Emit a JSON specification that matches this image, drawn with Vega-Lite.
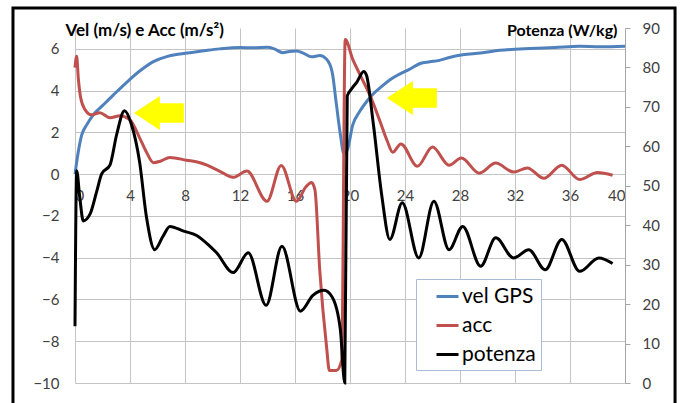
{
  "$schema": "https://vega.github.io/schema/vega-lite/v6.json",
  "width": 550,
  "height": 355,
  "autosize": {"type": "none"},
  "padding": {"left": 75, "top": 28, "right": 56, "bottom": 20},
  "background": "white",
  "config": {
    "view": {"stroke": null},
    "font": "Lato",
    "axis": {"labelFont": "Lato", "titleFont": "Lato", "labelColor": "#404040", "titleColor": "#000000", "gridColor": "#c4c4c4", "gridWidth": 1}
  },
  "datasets": {
    "vel": [
      {"t": 0, "v": 0}, {"t": 0.24, "v": 1.08}, {"t": 0.49, "v": 1.88}, {"t": 0.85, "v": 2.36}, {"t": 1.33, "v": 2.84},
      {"t": 2.06, "v": 3.32}, {"t": 2.8, "v": 3.8}, {"t": 3.76, "v": 4.4}, {"t": 4.73, "v": 4.95}, {"t": 5.7, "v": 5.39},
      {"t": 6.67, "v": 5.63}, {"t": 7.5, "v": 5.74}, {"t": 8.5, "v": 5.83}, {"t": 9.5, "v": 5.92}, {"t": 10.5, "v": 6.0},
      {"t": 12, "v": 6.07}, {"t": 13, "v": 6.05}, {"t": 14, "v": 6.08}, {"t": 14.5, "v": 6.0}, {"t": 15.1, "v": 5.82},
      {"t": 15.6, "v": 5.88}, {"t": 16.1, "v": 5.9}, {"t": 16.6, "v": 5.8}, {"t": 17.2, "v": 5.62}, {"t": 17.8, "v": 5.68},
      {"t": 18.3, "v": 5.5}, {"t": 18.7, "v": 4.9}, {"t": 19.0, "v": 3.4}, {"t": 19.3, "v": 1.9}, {"t": 19.55, "v": 1.0},
      {"t": 19.8, "v": 1.15}, {"t": 20.2, "v": 2.36}, {"t": 20.7, "v": 3.0}, {"t": 21.2, "v": 3.47}, {"t": 21.7, "v": 3.85},
      {"t": 22.2, "v": 4.14}, {"t": 23.1, "v": 4.6}, {"t": 24.4, "v": 5.05}, {"t": 25.1, "v": 5.3}, {"t": 25.8, "v": 5.38},
      {"t": 26.5, "v": 5.45}, {"t": 27.3, "v": 5.6}, {"t": 28.2, "v": 5.72}, {"t": 29.5, "v": 5.8}, {"t": 30.9, "v": 5.93},
      {"t": 32, "v": 5.98}, {"t": 33.1, "v": 6.02}, {"t": 34.9, "v": 6.07}, {"t": 36.7, "v": 6.13}, {"t": 38.2, "v": 6.1},
      {"t": 40, "v": 6.13}
    ],
    "acc": [
      {"t": 0, "a": 5.1}, {"t": 0.12, "a": 5.65}, {"t": 0.24, "a": 4.6}, {"t": 0.41, "a": 3.67}, {"t": 0.73, "a": 3.09},
      {"t": 1.2, "a": 2.84}, {"t": 1.8, "a": 2.94}, {"t": 2.55, "a": 2.7}, {"t": 3.27, "a": 2.8}, {"t": 4.0, "a": 2.6},
      {"t": 4.7, "a": 1.74}, {"t": 5.2, "a": 1.05}, {"t": 5.7, "a": 0.55}, {"t": 6.2, "a": 0.62}, {"t": 6.9, "a": 0.8},
      {"t": 8.1, "a": 0.67}, {"t": 9.1, "a": 0.55}, {"t": 9.6, "a": 0.43}, {"t": 10.5, "a": 0.15}, {"t": 11.5, "a": -0.15},
      {"t": 12.5, "a": 0.15}, {"t": 13.96, "a": -1.3}, {"t": 15.0, "a": 0.42}, {"t": 16.1, "a": -1.3}, {"t": 16.8, "a": -0.6},
      {"t": 17.2, "a": -0.4}, {"t": 17.45, "a": -0.75}, {"t": 17.8, "a": -4.6}, {"t": 18.3, "a": -8.3}, {"t": 18.5, "a": -9.4},
      {"t": 19.0, "a": -9.4}, {"t": 19.4, "a": -8.9}, {"t": 19.65, "a": 6.45}, {"t": 20.2, "a": 5.5}, {"t": 20.7, "a": 4.8},
      {"t": 21.5, "a": 3.7}, {"t": 22.2, "a": 2.5}, {"t": 22.7, "a": 1.6}, {"t": 23.1, "a": 1.05}, {"t": 23.7, "a": 1.45},
      {"t": 24.9, "a": 0.38}, {"t": 26.0, "a": 1.3}, {"t": 27.2, "a": 0.43}, {"t": 28.1, "a": 0.77}, {"t": 29.4, "a": 0.05},
      {"t": 30.6, "a": 0.53}, {"t": 31.9, "a": 0.1}, {"t": 32.9, "a": 0.3}, {"t": 34.1, "a": -0.2}, {"t": 35.4, "a": 0.43},
      {"t": 36.7, "a": -0.26}, {"t": 38.0, "a": 0.08}, {"t": 39.1, "a": -0.05}
    ],
    "pot": [
      {"t": 0, "p": 14.4}, {"t": 0.12, "p": 53.8}, {"t": 0.35, "p": 47}, {"t": 0.6, "p": 41.1}, {"t": 1.09, "p": 42.8},
      {"t": 1.58, "p": 48.6}, {"t": 1.94, "p": 53.0}, {"t": 2.55, "p": 55.3}, {"t": 3.03, "p": 63.0}, {"t": 3.6, "p": 69.0},
      {"t": 4.1, "p": 65.6}, {"t": 4.7, "p": 56}, {"t": 5.2, "p": 42}, {"t": 5.8, "p": 33.8}, {"t": 6.4, "p": 37.2},
      {"t": 6.9, "p": 39.7}, {"t": 7.9, "p": 38.5}, {"t": 8.85, "p": 37.4}, {"t": 9.8, "p": 34.7}, {"t": 10.3, "p": 33.0},
      {"t": 11.5, "p": 28}, {"t": 12.6, "p": 33.0}, {"t": 13.9, "p": 19.7}, {"t": 15.05, "p": 34.7}, {"t": 16.4, "p": 18.2},
      {"t": 17.3, "p": 22.2}, {"t": 18.1, "p": 23.5}, {"t": 18.7, "p": 21.8}, {"t": 19.3, "p": 13.5}, {"t": 19.62, "p": 0},
      {"t": 19.8, "p": 72.8}, {"t": 20.1, "p": 74.5}, {"t": 20.5, "p": 76.3}, {"t": 21.0, "p": 79.0}, {"t": 21.2, "p": 78.0},
      {"t": 21.7, "p": 65.6}, {"t": 22.3, "p": 47.8}, {"t": 22.9, "p": 36.4}, {"t": 23.8, "p": 45.7}, {"t": 25.0, "p": 31.7},
      {"t": 26.1, "p": 46.1}, {"t": 27.2, "p": 33.8}, {"t": 28.2, "p": 39.7}, {"t": 29.5, "p": 29.6}, {"t": 30.6, "p": 36.8},
      {"t": 31.9, "p": 31.7}, {"t": 33.0, "p": 33.8}, {"t": 34.2, "p": 28.7}, {"t": 35.4, "p": 36.4}, {"t": 36.7, "p": 28.3},
      {"t": 38.1, "p": 31.7}, {"t": 39.1, "p": 30.3}
    ],
    "arrows": [
      {"t": 6.1, "y": 2.93},
      {"t": 24.5, "y": 3.65}
    ]
  },
  "layer": [
    {
      "layer": [
        {
          "data": {"name": "vel"},
          "mark": {"type": "line", "interpolate": "monotone", "strokeWidth": 3},
          "encoding": {
            "x": {
              "field": "t", "type": "quantitative",
              "scale": {"domain": [0, 40], "nice": false, "zero": false},
              "axis": {
                "values": [0, 4, 8, 12, 16, 20, 24, 28, 32, 36, 40],
                "offset": -208.8, "domain": false, "ticks": false, "tickSize": 0,
                "labelPadding": 14, "labelFontSize": 15, "grid": true, "title": null
              }
            },
            "y": {
              "field": "v", "type": "quantitative",
              "scale": {"domain": [-10, 7], "nice": false, "zero": false},
              "axis": {
                "values": [-10, -8, -6, -4, -2, 0, 2, 4, 6],
                "domain": false, "ticks": false, "tickSize": 0, "labelPadding": 16, "labelFontSize": 15,
                "grid": true,
                "title": "Vel (m/s) e Acc (m/s²)", "titleAngle": 0, "titleX": -10, "titleY": 2,
                "titleAlign": "left", "titleBaseline": "middle", "titleFontSize": 17, "titleFontWeight": "bold"
              }
            },
            "color": {
              "datum": "vel GPS", "type": "nominal",
              "scale": {"domain": ["vel GPS", "acc", "potenza"], "range": ["#4F81BD", "#C0504D", "#000000"]},
              "legend": {
                "orient": "none", "legendX": 341, "legendY": 251, "direction": "vertical", "title": null,
                "symbolType": "stroke", "symbolStrokeWidth": 3, "symbolSize": 484,
                "labelFontSize": 21, "labelFont": "Lato", "labelColor": "#000000", "labelOffset": 2,
                "padding": 5, "rowPadding": 6, "symbolOffset": 14,
                "fillColor": "#ffffff", "strokeColor": "#a9bcd5"
              }
            }
          }
        },
        {
          "data": {"name": "acc"},
          "mark": {"type": "line", "interpolate": "monotone", "strokeWidth": 3},
          "encoding": {
            "x": {"field": "t", "type": "quantitative", "scale": {"domain": [0, 40], "nice": false, "zero": false}},
            "y": {"field": "a", "type": "quantitative", "scale": {"domain": [-10, 7], "nice": false, "zero": false}},
            "color": {"datum": "acc", "type": "nominal", "scale": {"domain": ["vel GPS", "acc", "potenza"], "range": ["#4F81BD", "#C0504D", "#000000"]}}
          }
        },
        {
          "data": {"values": [{}]},
          "mark": {"type": "rect", "filled": false, "stroke": "#000000", "strokeWidth": 3},
          "encoding": {
            "x": {"datum": -4.51, "type": "quantitative", "scale": {"domain": [0, 40], "nice": false, "zero": false}},
            "x2": {"datum": 43.64},
            "y": {"datum": 7.96, "type": "quantitative", "scale": {"domain": [-10, 7], "nice": false, "zero": false}},
            "y2": {"datum": -11.5}
          }
        },
        {
          "data": {"name": "arrows"},
          "mark": {
            "type": "point", "filled": true, "color": "#FFFF00", "opacity": 1, "strokeWidth": 0, "size": 2500,
            "shape": "M -1 0 L 0.04 -0.68 L 0.04 -0.39 L 1 -0.39 L 1 0.39 L 0.04 0.39 L 0.04 0.68 Z"
          },
          "encoding": {
            "x": {"field": "t", "type": "quantitative", "scale": {"domain": [0, 40], "nice": false, "zero": false}},
            "y": {"field": "y", "type": "quantitative", "scale": {"domain": [-10, 7], "nice": false, "zero": false}}
          }
        }
      ]
    },
    {
      "data": {"name": "pot"},
      "mark": {"type": "line", "interpolate": "monotone", "strokeWidth": 3},
      "encoding": {
        "x": {"field": "t", "type": "quantitative", "scale": {"domain": [0, 40], "nice": false, "zero": false}},
        "y": {
          "field": "p", "type": "quantitative",
          "scale": {"domain": [0, 90], "nice": false, "zero": false},
          "axis": {
            "orient": "right", "values": [0, 10, 20, 30, 40, 50, 60, 70, 80, 90],
            "domain": true, "domainColor": "#a6a6a6", "ticks": true, "tickColor": "#a6a6a6", "tickSize": 5,
            "labelPadding": 12, "labelFontSize": 15, "grid": false,
            "title": "Potenza (W/kg)", "titleAngle": 0, "titleX": -8, "titleY": 2,
            "titleAlign": "right", "titleBaseline": "middle", "titleFontSize": 16, "titleFontWeight": "bold"
          }
        },
        "color": {"datum": "potenza", "type": "nominal", "scale": {"domain": ["vel GPS", "acc", "potenza"], "range": ["#4F81BD", "#C0504D", "#000000"]}}
      }
    }
  ],
  "resolve": {"scale": {"y": "independent"}}
}
